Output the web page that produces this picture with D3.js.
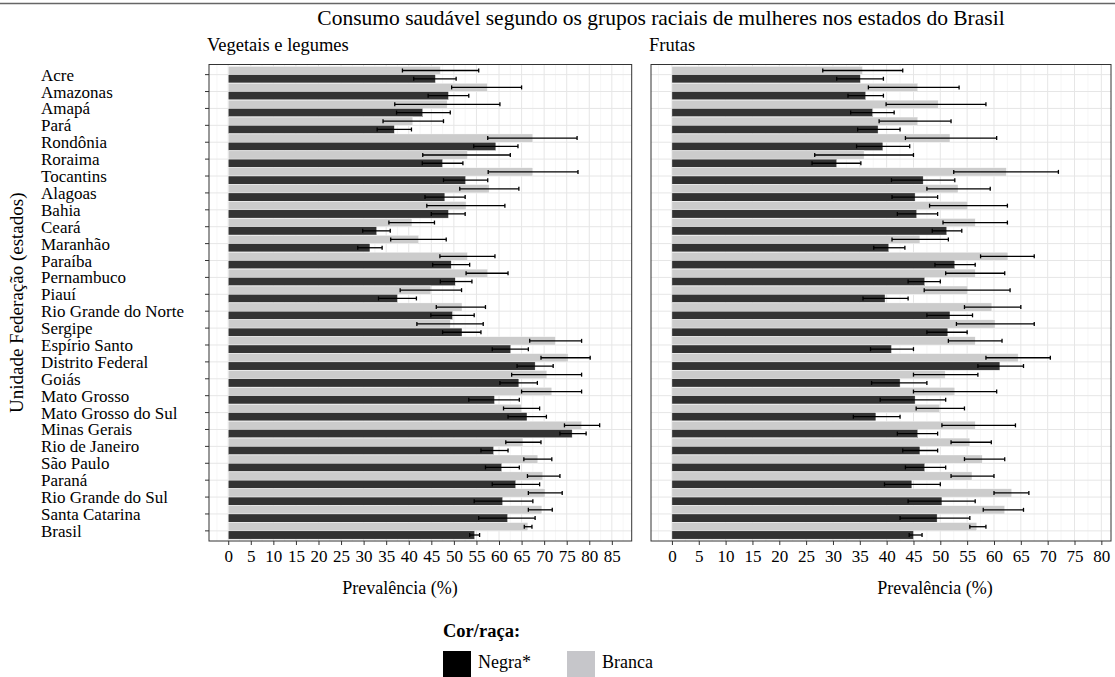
<!DOCTYPE html>
<html>
<head>
<meta charset="utf-8">
<script src="https://cdn.jsdelivr.net/npm/d3@7"></script>
<style>
  body { margin: 0; background: #fff; }
  svg, svg text { font-family: "Liberation Serif", "DejaVu Serif", serif; }
</style>
</head>
<body>
<div id="chart"></div>
<script>
// Données (prévalence %, IC 95%)
const estados = ["Acre", "Amazonas", "Amapá", "Pará", "Rondônia", "Roraima", "Tocantins",
  "Alagoas", "Bahia", "Ceará", "Maranhão", "Paraíba", "Pernambuco", "Piauí",
  "Rio Grande do Norte", "Sergipe", "Espírio Santo", "Distrito Federal", "Goiás",
  "Mato Grosso", "Mato Grosso do Sul", "Minas Gerais", "Rio de Janeiro", "São Paulo",
  "Paraná", "Rio Grande do Sul", "Santa Catarina", "Brasil"];

// Vegetais e legumes
const vegBranca   = [47.0, 57.4, 48.5, 40.9, 67.5, 53.0, 67.5, 57.8, 52.7, 40.7, 42.2, 53.0, 57.5, 44.9, 51.8, 49.2, 72.5, 75.3, 70.6, 71.7, 65.0, 78.3, 65.3, 68.6, 69.7, 70.2, 69.5, 66.4];
const vegBrancaLo = [38.6, 49.5, 36.9, 34.3, 57.5, 43.1, 57.6, 51.3, 44.0, 35.6, 36.0, 46.9, 52.7, 38.1, 46.1, 41.8, 66.8, 69.3, 62.8, 65.0, 61.0, 74.5, 61.5, 65.5, 66.3, 66.5, 66.5, 65.6];
const vegBrancaHi = [55.5, 65.0, 60.2, 47.7, 77.3, 62.5, 77.5, 64.4, 61.3, 45.7, 48.3, 59.1, 62.0, 51.7, 57.0, 56.5, 78.3, 80.2, 78.3, 78.3, 69.0, 82.3, 69.3, 71.7, 73.5, 74.0, 71.8, 67.3];
const vegNegra    = [45.9, 48.8, 43.1, 36.8, 59.3, 47.5, 52.6, 48.0, 48.8, 32.9, 31.4, 49.4, 50.3, 37.5, 49.7, 51.8, 62.6, 68.0, 64.4, 59.0, 66.2, 76.2, 58.8, 60.6, 63.7, 60.8, 61.9, 54.6];
const vegNegraLo  = [41.1, 44.3, 37.3, 33.0, 54.4, 43.0, 47.7, 43.6, 45.0, 29.8, 28.7, 45.3, 47.0, 33.3, 44.9, 47.5, 58.5, 64.0, 60.2, 53.3, 62.0, 73.5, 56.0, 57.0, 58.5, 54.5, 55.5, 53.5];
const vegNegraHi  = [50.5, 53.3, 49.2, 40.6, 64.2, 52.0, 57.5, 52.5, 52.5, 35.9, 34.1, 53.5, 54.0, 41.7, 54.5, 56.0, 66.5, 72.0, 68.5, 64.5, 70.5, 79.3, 62.0, 64.5, 69.0, 67.5, 68.0, 55.7];

// Frutas
const fruBranca   = [35.5, 45.8, 49.6, 45.8, 51.8, 35.8, 62.3, 53.3, 55.1, 56.5, 46.2, 62.6, 56.5, 55.1, 59.6, 60.2, 56.5, 64.5, 50.9, 52.7, 49.9, 56.5, 55.5, 57.8, 55.9, 63.3, 62.0, 56.8];
const fruBrancaLo = [28.1, 36.6, 39.9, 38.6, 43.5, 26.6, 52.5, 47.5, 48.0, 50.5, 41.0, 57.5, 51.0, 47.0, 54.5, 53.0, 51.5, 58.5, 45.0, 45.0, 45.5, 50.3, 52.0, 54.5, 52.0, 60.0, 58.0, 55.5];
const fruBrancaHi = [43.0, 53.5, 58.5, 52.0, 60.5, 45.0, 72.0, 59.3, 62.5, 62.5, 51.5, 67.5, 62.0, 63.0, 65.0, 67.5, 61.5, 70.5, 57.0, 60.5, 54.5, 64.0, 59.5, 62.0, 60.0, 66.5, 65.5, 58.5];
const fruNegra    = [35.1, 36.1, 37.4, 38.4, 39.3, 30.7, 46.8, 45.3, 45.6, 51.2, 40.4, 52.7, 47.1, 39.7, 51.8, 51.4, 40.9, 61.1, 42.5, 45.3, 38.0, 45.8, 46.2, 47.1, 44.7, 50.3, 49.4, 45.0];
const fruNegraLo  = [30.7, 32.8, 33.3, 34.6, 34.4, 26.1, 40.9, 41.0, 42.0, 48.5, 37.6, 49.0, 44.0, 35.6, 47.5, 47.5, 37.0, 57.0, 37.2, 38.8, 33.8, 42.0, 43.0, 43.5, 39.6, 44.0, 42.5, 44.2];
const fruNegraHi  = [39.4, 39.4, 41.4, 42.5, 44.3, 35.2, 52.7, 49.5, 49.5, 54.0, 43.4, 56.5, 50.0, 44.0, 56.0, 55.0, 45.0, 65.5, 47.5, 51.0, 42.5, 49.5, 49.5, 51.0, 50.0, 56.5, 55.5, 46.6];

const vegTicks = d3.range(0, 86, 5);
const fruTicks = d3.range(0, 81, 5);

const W = 1115, H = 677;
const panelTop = 64.5, panelBottom = 541;

const svg = d3.select("#chart").append("svg")
    .attr("width", W)
    .attr("height", H);

// trait en haut de la figure
svg.append("line")
    .attr("x1", 0).attr("x2", W)
    .attr("y1", 3.5).attr("y2", 3.5)
    .attr("stroke", "#666").attr("stroke-width", 1.5);

svg.append("text")
    .attr("x", 661).attr("y", 25)
    .attr("text-anchor", "middle")
    .attr("font-size", 21.5)
    .text("Consumo saudável segundo os grupos raciais de mulheres nos estados do Brasil");

const y = d3.scaleBand()
    .domain(estados)
    .range([panelTop, panelBottom])
    .paddingInner(0)
    .paddingOuter(0.1);

// Les deux séries dans chaque ligne : Branca en haut, Negra en bas
const sub = d3.scaleBand()
    .domain(["Branca", "Negra"])
    .range([0, y.bandwidth()])
    .paddingOuter(0.02)
    .paddingInner(0);

const fill = { Negra: "#333333", Branca: "#cccccc" };

const panels = [
  { titulo: "Vegetais e legumes", x0: 209, x1: 631.7, domain: [-4.26, 89.4], ticks: vegTicks,
    branca: vegBranca, brancaLo: vegBrancaLo, brancaHi: vegBrancaHi,
    negra: vegNegra, negraLo: vegNegraLo, negraHi: vegNegraHi, xtitle: 400, yaxis: true },
  { titulo: "Frutas", x0: 651, x1: 1111, domain: [-3.9, 81.8], ticks: fruTicks,
    branca: fruBranca, brancaLo: fruBrancaLo, brancaHi: fruBrancaHi,
    negra: fruNegra, negraLo: fruNegraLo, negraHi: fruNegraHi, xtitle: 935, yaxis: false }
];

panels.forEach(p => {
  const x = d3.scaleLinear().domain(p.domain).range([p.x0, p.x1]);
  const g = svg.append("g");

  // grille (mineure puis majeure)
  const minor = d3.range(-2.5, p.domain[1], 5).filter(v => v > p.domain[0]);
  g.selectAll(".minor").data(minor).enter().append("line")
      .attr("x1", d => x(d)).attr("x2", d => x(d))
      .attr("y1", panelTop).attr("y2", panelBottom)
      .attr("stroke", "#f2f2f2").attr("stroke-width", 0.7);
  g.selectAll(".vmajor").data(p.ticks).enter().append("line")
      .attr("x1", d => x(d)).attr("x2", d => x(d))
      .attr("y1", panelTop).attr("y2", panelBottom)
      .attr("stroke", "#e6e6e6").attr("stroke-width", 1);
  g.selectAll(".hmajor").data(estados).enter().append("line")
      .attr("x1", p.x0).attr("x2", p.x1)
      .attr("y1", d => y(d) + y.bandwidth() / 2).attr("y2", d => y(d) + y.bandwidth() / 2)
      .attr("stroke", "#e6e6e6").attr("stroke-width", 1);

  const rows = estados.map((e, i) => [
    { estado: e, grupo: "Branca", v: p.branca[i], lo: p.brancaLo[i], hi: p.brancaHi[i] },
    { estado: e, grupo: "Negra", v: p.negra[i], lo: p.negraLo[i], hi: p.negraHi[i] }
  ]).flat();

  // barres
  g.selectAll(".bar").data(rows).enter().append("rect")
      .attr("x", x(0))
      .attr("y", d => y(d.estado) + sub(d.grupo))
      .attr("width", d => x(d.v) - x(0))
      .attr("height", sub.bandwidth())
      .attr("fill", d => fill[d.grupo])
      .attr("stroke", "#fff").attr("stroke-width", 0.4);

  // barres d'erreur
  const cy = d => y(d.estado) + sub(d.grupo) + sub.bandwidth() / 2;
  const eb = g.selectAll(".err").data(rows).enter().append("g")
      .attr("stroke", "#000").attr("stroke-width", 1.3);
  eb.append("line")
      .attr("x1", d => x(d.lo)).attr("x2", d => x(d.hi))
      .attr("y1", cy).attr("y2", cy);
  eb.append("line")
      .attr("x1", d => x(d.lo)).attr("x2", d => x(d.lo))
      .attr("y1", d => cy(d) - 2).attr("y2", d => cy(d) + 2);
  eb.append("line")
      .attr("x1", d => x(d.hi)).attr("x2", d => x(d.hi))
      .attr("y1", d => cy(d) - 2).attr("y2", d => cy(d) + 2);

  // cadre du panneau
  g.append("rect")
      .attr("x", p.x0).attr("y", panelTop)
      .attr("width", p.x1 - p.x0).attr("height", panelBottom - panelTop)
      .attr("fill", "none").attr("stroke", "#333").attr("stroke-width", 1);

  // axe x
  const xAxis = g.append("g")
      .attr("transform", `translate(0,${panelBottom})`)
      .call(d3.axisBottom(x).tickValues(p.ticks).tickSize(4).tickPadding(5));
  xAxis.attr("font-family", null).attr("font-size", null);
  xAxis.select(".domain").remove();
  xAxis.selectAll("line").attr("stroke", "#333");
  xAxis.selectAll("text")
      .attr("font-size", 17).attr("fill", "#000");

  // titre du panneau
  svg.append("text")
      .attr("x", p.x0 - 2).attr("y", 51)
      .attr("font-size", 18.5)
      .text(p.titulo);

  svg.append("text")
      .attr("x", p.xtitle).attr("y", 594)
      .attr("text-anchor", "middle")
      .attr("font-size", 18)
      .text("Prevalência (%)");

  if (p.yaxis) {
    g.selectAll(".ytick").data(estados).enter().append("line")
        .attr("x1", p.x0 - 4).attr("x2", p.x0)
        .attr("y1", d => y(d) + y.bandwidth() / 2).attr("y2", d => y(d) + y.bandwidth() / 2)
        .attr("stroke", "#333");
    g.selectAll(".ylab").data(estados).enter().append("text")
        .attr("x", 41)
        .attr("y", d => y(d) + y.bandwidth() / 2 + 6)
        .attr("font-size", 17)
        .text(d => d);
  }
});

// titre de l'axe y
svg.append("text")
    .attr("transform", `translate(23,${(panelTop + panelBottom) / 2}) rotate(-90)`)
    .attr("text-anchor", "middle")
    .attr("font-size", 19)
    .text("Unidade Federação (estados)");

// Légende
const legend = svg.append("g");
legend.append("text")
    .attr("x", 443).attr("y", 637)
    .attr("font-size", 18.5).attr("font-weight", "bold")
    .text("Cor/raça:");
const legItems = [
  { label: "Negra*", color: "#000000", x: 443 },
  { label: "Branca", color: "#c6c6ca", x: 567 }
];
legend.selectAll(".key").data(legItems).enter().append("rect")
    .attr("x", d => d.x).attr("y", 651)
    .attr("width", 28).attr("height", 28)
    .attr("fill", d => d.color);
legend.selectAll(".lab").data(legItems).enter().append("text")
    .attr("x", d => d.x + 35).attr("y", 668)
    .attr("font-size", 18)
    .text(d => d.label);
</script>
</body>
</html>
